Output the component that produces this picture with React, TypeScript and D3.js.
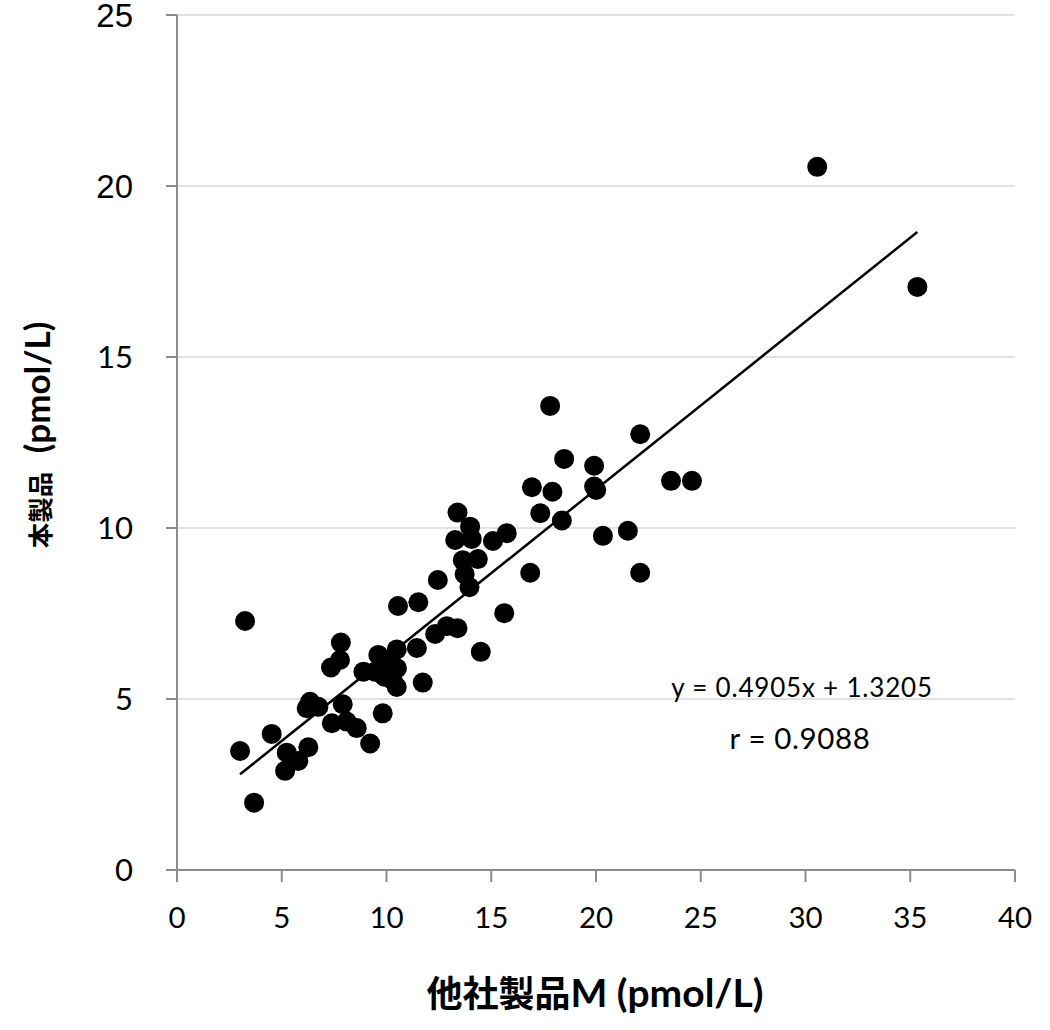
import React from "react";
import * as d3 from "d3";

// 他社製品M (x) vs 本製品 (y), pmol/L
const xValues: number[] = [
  3.01, 3.25, 3.68, 4.52, 5.24, 5.16, 5.79, 6.27, 6.19, 6.35, 6.75, 7.39, 8.10, 8.58, 9.22, 9.82,
  7.91, 7.82, 7.78, 7.35, 8.90, 9.61, 10.49, 11.45, 10.49, 11.73, 9.45, 9.90, 10.15, 10.50, 10.30,
  10.55, 11.52, 12.45, 12.32, 12.88, 13.39, 14.50, 15.62, 13.39, 13.99, 13.28, 14.07, 15.08, 15.74,
  13.64, 14.36, 13.73, 13.96, 16.86, 17.34, 16.94, 17.92, 18.37, 17.81, 18.48, 19.91, 19.91, 20.01,
  22.11, 20.33, 21.52, 22.11, 23.58, 24.58, 30.56, 35.34,
];
const yValues: number[] = [
  3.48, 7.28, 1.97, 3.98, 3.43, 2.90, 3.19, 3.59, 4.73, 4.92, 4.77, 4.29, 4.34, 4.15, 3.70, 4.58,
  4.85, 6.65, 6.14, 5.92, 5.80, 6.29, 6.45, 6.49, 5.35, 5.48, 5.80, 5.65, 6.05, 5.90, 5.55,
  7.72, 7.83, 8.48, 6.90, 7.13, 7.07, 6.38, 7.51, 10.45, 10.04, 9.65, 9.68, 9.62, 9.85,
  9.06, 9.09, 8.65, 8.27, 8.69, 10.43, 11.19, 11.06, 10.22, 13.57, 12.02, 11.82, 11.21, 11.11,
  12.74, 9.77, 9.92, 8.69, 11.38, 11.38, 20.56, 17.05,
];
const xTicks: number[] = [0, 5, 10, 15, 20, 25, 30, 35, 40];
const yTicks: number[] = [0, 5, 10, 15, 20, 25];
const slope = 0.4905;
const intercept = 1.3205;
const equationText = "y = 0.4905x + 1.3205";
const rText = "r = 0.9088";
const xTitleCJK = "他社製品";
const xTitleLatin = "M (pmol/L)";
const yTitleCJK = "本製品";
const yTitleLatin = " (pmol/L)";

const W = 1050;
const H = 1030;
const left = 177;
const right = 1015;
const top = 15;
const bottom = 870;

export default function App() {
  const x = d3.scaleLinear().domain([0, 40]).range([left, right]);
  const y = d3.scaleLinear().domain([0, 25]).range([bottom, top]);
  const pts = xValues.map((v, i) => [v, yValues[i]] as [number, number]);
  const xMin = d3.min(xValues) as number;
  const xMax = d3.max(xValues) as number;
  const line = d3
    .line<number>()
    .x((d) => x(d))
    .y((d) => y(slope * d + intercept));
  const latin = "Lato, 'Open Sans', sans-serif";
  const cjk = "'Noto Sans CJK JP', sans-serif";
  return (
    <svg
      width={W}
      height={H}
      style={{ position: "absolute", left: 0, top: 0, background: "#fff" }}
    >
      <rect x={0} y={0} width={W} height={H} fill="#fff" />
      {yTicks
        .filter((t) => t > 0)
        .map((t) => (
          <line key={"g" + t} x1={left} x2={right} y1={y(t)} y2={y(t)} stroke="#d9d9d9" strokeWidth={1.5} />
        ))}
      {/* axes */}
      <line x1={left} x2={left} y1={top} y2={bottom} stroke="#8c8c8c" strokeWidth={2} />
      <line x1={left} x2={right} y1={bottom} y2={bottom} stroke="#8c8c8c" strokeWidth={2} />
      {yTicks.map((t) => (
        <g key={"yt" + t}>
          <line x1={left - 11} x2={left} y1={y(t)} y2={y(t)} stroke="#8c8c8c" strokeWidth={2} />
          <text
            x={133}
            y={y(t) + (t >= 20 ? 12 : 11)}
            textAnchor="end"
            fontFamily={t >= 20 ? "'Liberation Sans', Arial, sans-serif" : latin}
            fontSize={t >= 20 ? 33 : 31}
            fill="#000"
          >
            {t}
          </text>
        </g>
      ))}
      {xTicks.map((t) => (
        <g key={"xt" + t}>
          <line x1={x(t)} x2={x(t)} y1={bottom} y2={bottom + 12} stroke="#8c8c8c" strokeWidth={2} />
          <text x={x(t)} y={928} textAnchor="middle" fontFamily={latin} fontSize={29.5} fill="#000">
            {t}
          </text>
        </g>
      ))}
      {/* regression line */}
      <path d={line([xMin, xMax]) || ""} fill="none" stroke="#000" strokeWidth={2.5} />
      {/* points */}
      {pts.map((p, i) => (
        <circle key={i} cx={x(p[0])} cy={y(p[1])} r={10} fill="#000" />
      ))}
      {/* equation */}
      <text x={802} y={697} textAnchor="middle" fontFamily={latin} fontSize={26} letterSpacing={0.8} fill="#000">
        {equationText}
      </text>
      <text x={800} y={749} textAnchor="middle" fontFamily={latin} fontSize={29.5} letterSpacing={0.6} fill="#000">
        {rText}
      </text>
      {/* x title */}
      <text x={595} y={1007} textAnchor="middle" fontWeight="bold" fill="#000">
        <tspan fontFamily={cjk} fontSize={36}>{xTitleCJK}</tspan>
        <tspan fontFamily={latin} fontSize={39}>{xTitleLatin}</tspan>
      </text>
      {/* y title */}
      <text
        transform={`translate(50, 435) rotate(-90)`}
        textAnchor="middle"
        fontWeight="bold"
        fill="#000"
      >
        <tspan fontFamily={cjk} fontSize={25.5}>{yTitleCJK}</tspan>
        <tspan fontFamily={latin} fontSize={35} dx={10}>{yTitleLatin}</tspan>
      </text>
    </svg>
  );
}
